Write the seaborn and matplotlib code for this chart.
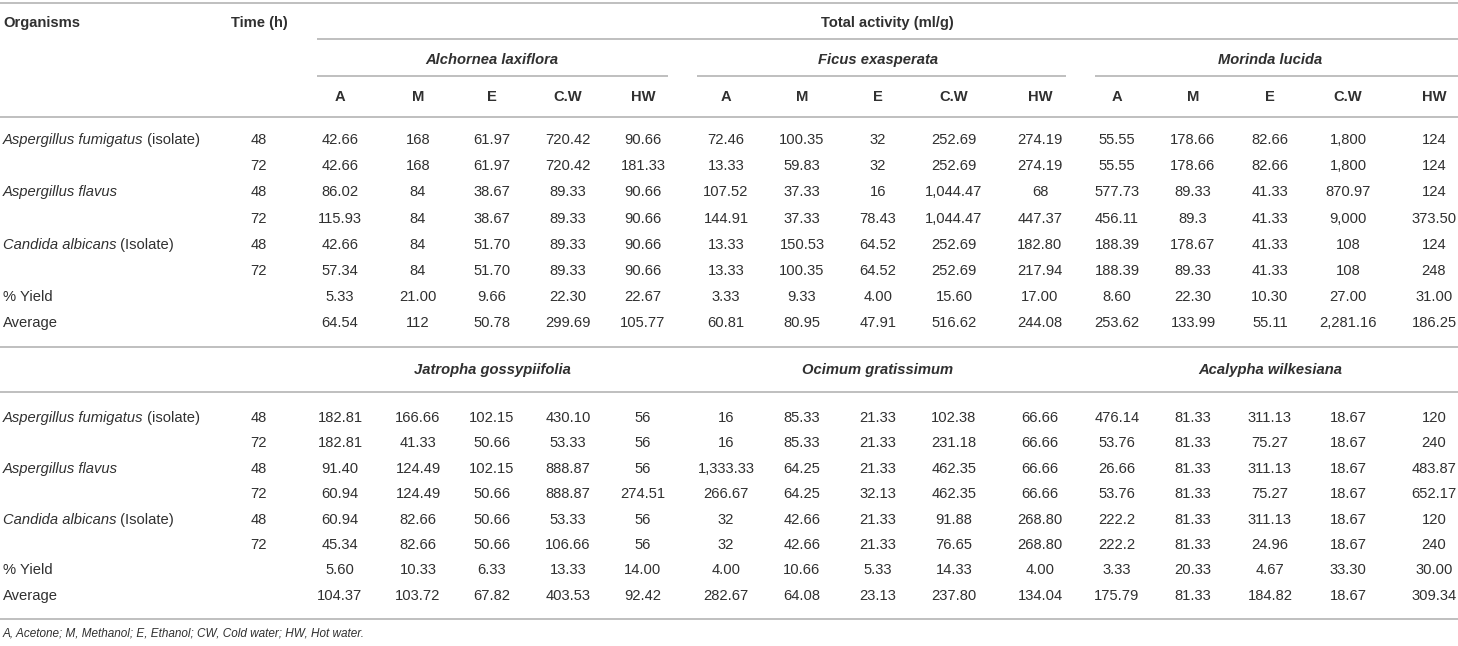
import matplotlib
matplotlib.use("Agg")
import matplotlib.pyplot as plt
import seaborn as sns

# table content
organisms = ["Aspergillus fumigatus", "Aspergillus flavus", "Candida albicans"]
organism_notes = [" (isolate)", "", " (Isolate)"]
times = ["48", "72"]
extra_rows = ["% Yield", "Average"]
solvents = ["A", "M", "E", "C.W", "HW"]
plants_top = ["Alchornea laxiflora", "Ficus exasperata", "Morinda lucida"]
plants_bottom = ["Jatropha gossypiifolia", "Ocimum gratissimum", "Acalypha wilkesiana"]

values_top = [
    ["42.66", "168", "61.97", "720.42", "90.66", "72.46", "100.35", "32", "252.69", "274.19", "55.55", "178.66", "82.66", "1,800", "124"],
    ["42.66", "168", "61.97", "720.42", "181.33", "13.33", "59.83", "32", "252.69", "274.19", "55.55", "178.66", "82.66", "1,800", "124"],
    ["86.02", "84", "38.67", "89.33", "90.66", "107.52", "37.33", "16", "1,044.47", "68", "577.73", "89.33", "41.33", "870.97", "124"],
    ["115.93", "84", "38.67", "89.33", "90.66", "144.91", "37.33", "78.43", "1,044.47", "447.37", "456.11", "89.3", "41.33", "9,000", "373.50"],
    ["42.66", "84", "51.70", "89.33", "90.66", "13.33", "150.53", "64.52", "252.69", "182.80", "188.39", "178.67", "41.33", "108", "124"],
    ["57.34", "84", "51.70", "89.33", "90.66", "13.33", "100.35", "64.52", "252.69", "217.94", "188.39", "89.33", "41.33", "108", "248"],
    ["5.33", "21.00", "9.66", "22.30", "22.67", "3.33", "9.33", "4.00", "15.60", "17.00", "8.60", "22.30", "10.30", "27.00", "31.00"],
    ["64.54", "112", "50.78", "299.69", "105.77", "60.81", "80.95", "47.91", "516.62", "244.08", "253.62", "133.99", "55.11", "2,281.16", "186.25"],
]
values_bottom = [
    ["182.81", "166.66", "102.15", "430.10", "56", "16", "85.33", "21.33", "102.38", "66.66", "476.14", "81.33", "311.13", "18.67", "120"],
    ["182.81", "41.33", "50.66", "53.33", "56", "16", "85.33", "21.33", "231.18", "66.66", "53.76", "81.33", "75.27", "18.67", "240"],
    ["91.40", "124.49", "102.15", "888.87", "56", "1,333.33", "64.25", "21.33", "462.35", "66.66", "26.66", "81.33", "311.13", "18.67", "483.87"],
    ["60.94", "124.49", "50.66", "888.87", "274.51", "266.67", "64.25", "32.13", "462.35", "66.66", "53.76", "81.33", "75.27", "18.67", "652.17"],
    ["60.94", "82.66", "50.66", "53.33", "56", "32", "42.66", "21.33", "91.88", "268.80", "222.2", "81.33", "311.13", "18.67", "120"],
    ["45.34", "82.66", "50.66", "106.66", "56", "32", "42.66", "21.33", "76.65", "268.80", "222.2", "81.33", "24.96", "18.67", "240"],
    ["5.60", "10.33", "6.33", "13.33", "14.00", "4.00", "10.66", "5.33", "14.33", "4.00", "3.33", "20.33", "4.67", "33.30", "30.00"],
    ["104.37", "103.72", "67.82", "403.53", "92.42", "282.67", "64.08", "23.13", "237.80", "134.04", "175.79", "81.33", "184.82", "18.67", "309.34"],
]
footnote = "A, Acetone; M, Methanol; E, Ethanol; CW, Cold water; HW, Hot water."

sns.set_theme(style="white")
plt.rcParams["font.family"] = ["Liberation Sans", "DejaVu Sans"]

W, H = 1458, 646
fig = plt.figure(figsize=(W / 100, H / 100), dpi=100)
ax = fig.add_axes([0, 0, 1, 1])
ax.set_xlim(0, W)
ax.set_ylim(H, 0)
ax.axis("off")

txt = "#303030"
rule = "#b4b4b4"
fs = 10.6
lw = 1.2

col_x = [340, 418, 492, 568, 643,
         726, 802, 878, 954, 1040,
         1117, 1193, 1270, 1348, 1434]
group_x = [492, 878, 1270]
group_lines = [(317, 668), (697, 1066), (1095, W)]
time_x = 259
left_x = 3

renderer = fig.canvas.get_renderer()


def row_labels(y_rows):
    labels = []
    for org, note in zip(organisms, organism_notes):
        labels.append((org, note))
        labels.append(("", ""))
    for i, (name, note) in enumerate(labels):
        y = y_rows[i]
        t = ax.text(left_x, y, name, ha="left", va="center", fontsize=fs,
                    style="italic", color=txt)
        if note:
            bb = t.get_window_extent(renderer=renderer)
            ax.text(bb.x1, y, note, ha="left", va="center", fontsize=fs, color=txt)
        ax.text(time_x, y, times[i % 2], ha="center", va="center", fontsize=fs, color=txt)
    for j, lab in enumerate(extra_rows):
        ax.text(left_x, y_rows[6 + j], lab, ha="left", va="center", fontsize=fs, color=txt)


def fill_values(vals, y_rows):
    for r, row in enumerate(vals):
        for c, v in enumerate(row):
            ax.text(col_x[c], y_rows[r], v, ha="center", va="center", fontsize=fs, color=txt)


# header
ax.hlines(3, 0, W, color=rule, lw=lw)
ax.text(left_x, 23, "Organisms", ha="left", va="center", fontsize=fs, weight="bold", color=txt)
ax.text(time_x, 23, "Time (h)", ha="center", va="center", fontsize=fs, weight="bold", color=txt)
ax.text(887, 23, "Total activity (ml/g)", ha="center", va="center", fontsize=fs, weight="bold", color=txt)
ax.hlines(39, 317, W, color=rule, lw=lw)
for gx, name, (x0, x1) in zip(group_x, plants_top, group_lines):
    ax.text(gx, 60, name, ha="center", va="center", fontsize=fs, weight="bold",
            style="italic", color=txt)
    ax.hlines(76, x0, x1, color=rule, lw=lw)
for c, x in enumerate(col_x):
    ax.text(x, 97, solvents[c % 5], ha="center", va="center", fontsize=fs, weight="bold", color=txt)
ax.hlines(117, 0, W, color=rule, lw=lw)

# top block
y_top = [140 + 26.2 * i for i in range(8)]
row_labels(y_top)
fill_values(values_top, y_top)

# second block
ax.hlines(347, 0, W, color=rule, lw=lw)
for gx, name in zip(group_x, plants_bottom):
    ax.text(gx, 370, name, ha="center", va="center", fontsize=fs, weight="bold",
            style="italic", color=txt)
ax.hlines(392, 0, W, color=rule, lw=lw)
y_bot = [418 + 25.4 * i for i in range(8)]
row_labels(y_bot)
fill_values(values_bottom, y_bot)

ax.hlines(619, 0, W, color=rule, lw=lw)
ax.text(left_x, 633, footnote, ha="left", va="center", fontsize=8.5, style="italic", color=txt)

fig.savefig("out.png", dpi=100, facecolor="white")
